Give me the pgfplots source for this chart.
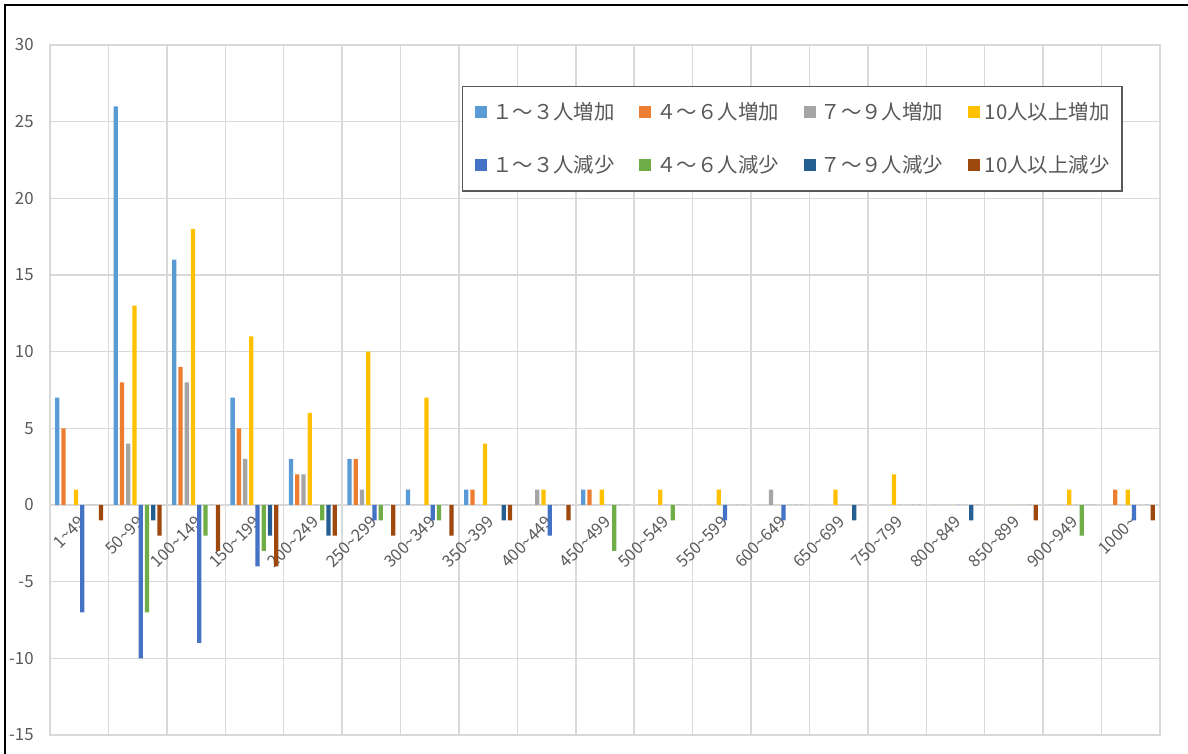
\documentclass[border=0pt]{standalone}
\usepackage{pgfplots}
\pgfplotsset{compat=1.18}
\usepackage{pgfplotstable}
\usepackage{fontspec}
\setmainfont{Noto Sans CJK JP}

\definecolor{incA}{HTML}{5B9BD5}
\definecolor{incB}{HTML}{ED7D31}
\definecolor{incC}{HTML}{A5A5A5}
\definecolor{incD}{HTML}{FFC000}
\definecolor{decA}{HTML}{4472C4}
\definecolor{decB}{HTML}{70AD47}
\definecolor{decC}{HTML}{255E91}
\definecolor{decD}{HTML}{9E480E}
\definecolor{gridc}{HTML}{D9D9D9}
\definecolor{tc}{HTML}{595959}

% columns: a-d = increase (1-3, 4-6, 7-9, 10+), e-h = decrease (1-3, 4-6, 7-9, 10+)
\pgfplotstableread{
x   a   b   c   d    e    f   g   h
0   7   5   0   1   -7    0   0  -1
1   26  8   4   13  -10  -7  -1  -2
2   16  9   8   18  -9   -2   0  -3
3   7   5   3   11  -4   -3  -2  -4
4   3   2   2   6    0   -1  -2  -2
5   3   3   1   10  -1   -1   0  -2
6   1   0   0   7   -1   -1   0  -2
7   1   1   0   4    0    0  -1  -1
8   0   0   1   1   -2    0   0  -1
9   1   1   0   1    0   -3   0   0
10  0   0   0   1    0   -1   0   0
11  0   0   0   1   -1    0   0   0
12  0   0   1   0   -1    0   0   0
13  0   0   0   1    0    0  -1   0
14  0   0   0   2    0    0   0   0
15  0   0   0   0    0    0  -1   0
16  0   0   0   0    0    0   0  -1
17  0   0   0   1    0   -2   0   0
18  0   1   0   1   -1    0   0  -1
}\data

% fixed-width legend text so that the columns are evenly spaced
\newcommand{\legbox}[1]{\makebox[62pt][l]{#1}}

\begin{document}
\begin{tikzpicture}
\useasboundingbox (-25pt,-9.5pt) rectangle (569pt,367.5pt);
\begin{axis}[
  at={(0,0)}, anchor=south west,
  scale only axis, width=555pt, height=345pt,
  xmin=-0.5, xmax=18.5, ymin=-15, ymax=30,
  ytick={-15,-10,...,30},
  xtick={0,...,18},
  minor xtick={-0.5,0.5,...,18.5},
  xticklabels={1\textasciitilde49,50\textasciitilde99,100\textasciitilde149,150\textasciitilde199,200\textasciitilde249,250\textasciitilde299,300\textasciitilde349,350\textasciitilde399,400\textasciitilde449,450\textasciitilde499,500\textasciitilde549,550\textasciitilde599,600\textasciitilde649,650\textasciitilde699,750\textasciitilde799,800\textasciitilde849,850\textasciitilde899,900\textasciitilde949,1000\textasciitilde},
  xminorgrids=true, xmajorgrids=false, ymajorgrids=true,
  grid style={draw=gridc, line width=0.75pt},
  minor grid style={draw=gridc, line width=0.75pt},
  axis line style={draw=gridc, line width=0.75pt},
  major tick length=0pt, minor tick length=0pt,
  /pgf/number format/assume math mode=true,
  yticklabel style={anchor=east, inner sep=0pt, xshift=-8pt, font=\fontsize{8.4}{10}\selectfont, text=tc},
  xticklabel style={yshift=108pt, xshift=1.5pt, rotate=45, anchor=east, inner sep=0pt, font=\fontsize{8.2}{10}\selectfont, text=tc},
  ybar, bar width=0.073,
  legend image code/.code={\fill[#1] (0pt,-3pt) rectangle (6pt,3pt);},
  legend columns=4, legend cell align=left,
  legend style={at={(0.3709,0.9406)}, anchor=north west,
    draw=tc, line width=0.6pt, fill=white,
    inner xsep=6.5pt, inner ysep=7.9pt, row sep=16.3pt,
    font=\fontsize{10.2}{12}\selectfont, text=tc,
    nodes={inner sep=0pt},
    /tikz/every odd column/.append style={column sep=2.5pt},
    /tikz/every even column/.append style={column sep=11.6pt}},
]
\addplot[fill=incA, draw=none, bar shift=-0.374] table[x=x,y=a]{\data};
\addplot[fill=incB, draw=none, bar shift=-0.267] table[x=x,y=b]{\data};
\addplot[fill=incC, draw=none, bar shift=-0.160] table[x=x,y=c]{\data};
\addplot[fill=incD, draw=none, bar shift=-0.0535] table[x=x,y=d]{\data};
\addplot[fill=decA, draw=none, bar shift=0.0535] table[x=x,y=e]{\data};
\addplot[fill=decB, draw=none, bar shift=0.160] table[x=x,y=f]{\data};
\addplot[fill=decC, draw=none, bar shift=0.267] table[x=x,y=g]{\data};
\addplot[fill=decD, draw=none, bar shift=0.374] table[x=x,y=h]{\data};
\legend{\legbox{１～３人増加},\legbox{４～６人増加},\legbox{７～９人増加},\legbox{10人以上増加},
        \legbox{１～３人減少},\legbox{４～６人減少},\legbox{７～９人減少},\legbox{10人以上減少}}
\end{axis}
% chart area frame
\draw[line width=1pt, black] (-22.5pt,-20pt) -- (-22.5pt,365pt) -- (580pt,365pt);
\end{tikzpicture}
\end{document}
